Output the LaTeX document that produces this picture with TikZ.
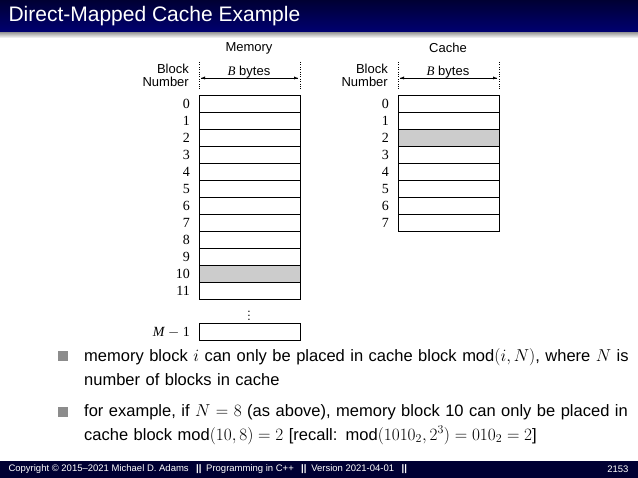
\documentclass[tikz,border=0pt]{standalone}
\usepackage{fontspec}
\setmainfont{Liberation Sans}
\newfontfamily\serf{Liberation Serif}
\begin{document}
\begin{tikzpicture}[x=1pt,y=-1pt,
  cell/.style={draw,line width=0.6pt},
  num/.style={anchor=east,font=\serf\fontsize{14}{14}\selectfont,inner sep=0pt},
  lbl/.style={font=\fontsize{13}{13}\selectfont,inner sep=0pt},
  bul/.style={anchor=north west,text width=548pt,font=\fontsize{16.5}{24}\selectfont,inner sep=0pt,align=left}]
\useasboundingbox (0,0) rectangle (638,478);
\shade[top color=black!80!blue,bottom color=blue!45!black] (0,0) rectangle (638,33);
\shade[top color=black!35,bottom color=white] (0,33) rectangle (638,38);
\node[anchor=west,text=white,font=\fontsize{21}{22}\selectfont] (title) at (5,16) {Direct-Mapped Cache Example};
\node[lbl] (memt) at (249,48) {Memory};
\node[lbl] (cact) at (448,48) {Cache};
\foreach \X/\n in {199/m,398/c}{
  \draw[dotted] (\X,62) -- (\X,90);
  \draw[dotted] (\X+101,62) -- (\X+101,90);
  \coordinate (\n l) at (\X+2,78); \coordinate (\n r) at (\X+99,78);
  \draw[-latex] (\n l) -- (\n r);
  \draw[-latex] (\n r) -- (\n l);
  \node[lbl] at (\X+50,72) {{\serf\itshape B} bytes};
  \node[lbl,anchor=east,align=right,font=\fontsize{13}{13}\selectfont] at (\X-10,75) {Block\\Number};
}
\foreach \i in {0,...,11}{
  \pgfmathsetmacro\yy{95+17*\i}
  \ifnum\i=10 \filldraw[cell,fill=black!20] (199,\yy) rectangle (300,\yy+17);
  \else \draw[cell] (199,\yy) rectangle (300,\yy+17); \fi
  \node[num] (mn\i) at (190,\yy+9) {\i};
}
\node[inner sep=0pt,font=\fontsize{12}{12}\selectfont] (vd) at (249,313) {$\vdots$};
\draw[cell] (199,323) rectangle (300,340);
\node[num] (mnM) at (190,332) {{\itshape M} $-$ 1};
\foreach \i in {0,...,7}{
  \pgfmathsetmacro\yy{95+17*\i}
  \ifnum\i=2 \filldraw[cell,fill=black!20] (398,\yy) rectangle (499,\yy+17);
  \else \draw[cell] (398,\yy) rectangle (499,\yy+17); \fi
  \node[num] (cn\i) at (389,\yy+9) {\i};
}
\fill[black!45] (58,351) rectangle (68,361);
\fill[black!45] (58,407) rectangle (68,417);
\node[bul] (b1) at (84,348) {memory block $i$ can only be placed in cache block $\mathrm{mod}(i,N)$, where $N$ is number of blocks in cache};
\node[bul] (b2) at (84,404) {for example, if $N=8$ (as above), memory block 10 can only be placed in cache block $\mathrm{mod}(10,8)=2$ [recall: $\mathrm{mod}(1010_2,2^3)=010_2=2$]};
\fill[black!80!blue] (0,461) rectangle (638,478);
\node[anchor=west,text=white,font=\fontsize{9.5}{10}\selectfont] (ft) at (5,469.5) {Copyright \textcopyright{} 2015--2021 Michael D. Adams \enspace\textbf{||}\enspace Programming in C++ \enspace\textbf{||}\enspace Version 2021-04-01 \enspace\textbf{||}};
\node[anchor=east,text=white,font=\fontsize{9.5}{10}\selectfont] (pg) at (632,469.5) {2153};
\end{tikzpicture}
\end{document}
